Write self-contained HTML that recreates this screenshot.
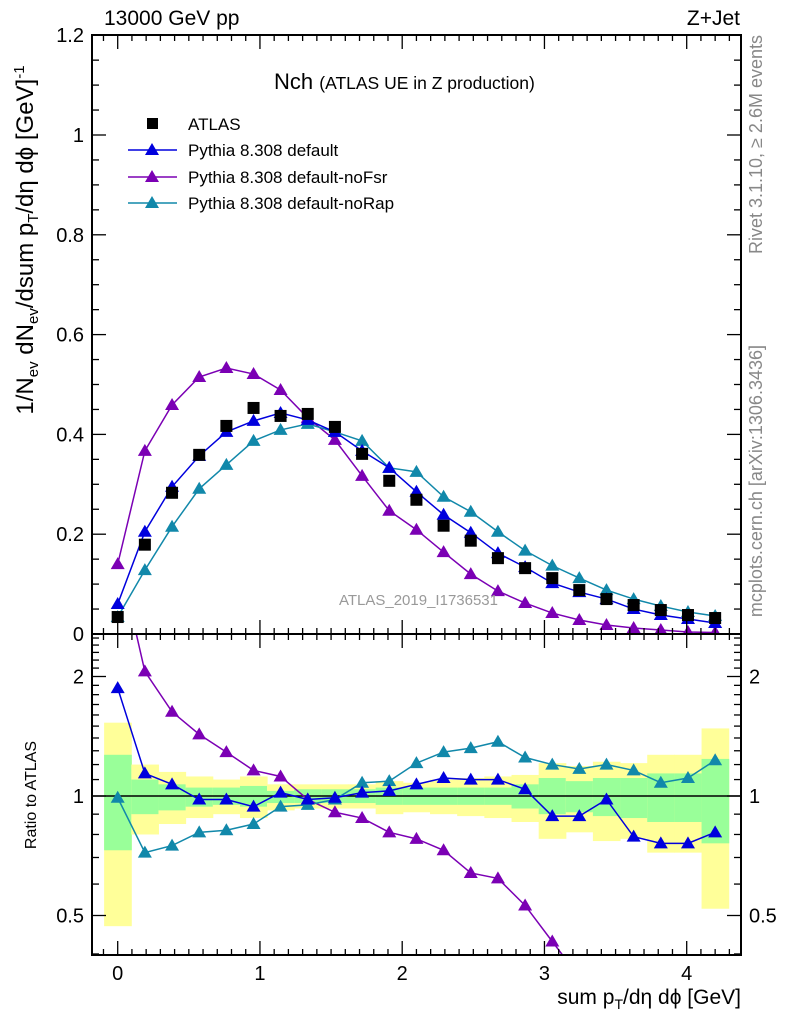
<!DOCTYPE html>
<html><head><meta charset="utf-8"><style>
html,body{margin:0;padding:0;background:#fff;overflow:hidden;width:786px;height:1024px;}
svg{display:block;font-family:"Liberation Sans",sans-serif;}
</style></head><body>
<svg id="chart" width="786" height="1024" viewBox="0 0 786 1024" xmlns="http://www.w3.org/2000/svg">
<defs>
<clipPath id="cm"><rect x="92" y="35" width="649" height="599"/></clipPath>
<clipPath id="cr"><rect x="92" y="634" width="649" height="321"/></clipPath>
</defs>
<g id="bands" clip-path="url(#cr)"></g>
<g id="main" clip-path="url(#cm)"></g>
<g id="ratio" clip-path="url(#cr)"></g>
<g id="axes"></g>
<text x="104" y="25" font-size="21">13000 GeV pp</text>
<text x="740" y="25" font-size="21" text-anchor="end">Z+Jet</text>
<text x="274" y="89" font-size="22">Nch <tspan font-size="17.5">(ATLAS UE in Z production)</tspan></text>
<g font-size="17">
<rect x="147" y="118" width="11" height="11" fill="#000"/>
<text x="188" y="130">ATLAS</text>
<line x1="128" y1="150" x2="177" y2="150" stroke="#0000dd" stroke-width="1.5"/>
<polygon points="152,143 159,155 145,155" fill="#0000dd"/>
<text x="188" y="156">Pythia 8.308 default</text>
<line x1="128" y1="177" x2="177" y2="177" stroke="#7b00b4" stroke-width="1.5"/>
<polygon points="152,170 159,182 145,182" fill="#7b00b4"/>
<text x="188" y="183">Pythia 8.308 default-noFsr</text>
<line x1="128" y1="203" x2="177" y2="203" stroke="#1188aa" stroke-width="1.5"/>
<polygon points="152,196 159,208 145,208" fill="#1188aa"/>
<text x="188" y="209">Pythia 8.308 default-noRap</text>
</g>
<text x="498" y="605" font-size="15" fill="#999" text-anchor="end">ATLAS_2019_I1736531</text>
<text transform="translate(762,35) rotate(-90)" font-size="18" fill="#888" text-anchor="end">Rivet 3.1.10, ≥ 2.6M events</text>
<text transform="translate(762,345) rotate(-90)" font-size="18" fill="#888" text-anchor="end">mcplots.cern.ch [arXiv:1306.3436]</text>
<text transform="translate(33,240) rotate(-90)" font-size="24" text-anchor="middle">1/N<tspan font-size="15" dy="5">ev</tspan><tspan dy="-5"> dN</tspan><tspan font-size="15" dy="5">ev</tspan><tspan dy="-5">/dsum p</tspan><tspan font-size="15" dy="5">T</tspan><tspan dy="-5">/dη dϕ  [GeV]</tspan><tspan font-size="15" dy="-9">-1</tspan></text>
<text transform="translate(36,795) rotate(-90)" font-size="16" text-anchor="middle">Ratio to ATLAS</text>
<text x="741" y="1004" font-size="21" text-anchor="end">sum p<tspan font-size="14" dy="5">T</tspan><tspan dy="-5">/dη dϕ [GeV]</tspan></text>
</svg>
<script>
const xVals = [0,0.191,0.382,0.573,0.764,0.955,1.145,1.336,1.527,1.718,1.909,2.1,2.291,2.482,2.673,2.864,3.055,3.245,3.436,3.627,3.818,4.009,4.2];
const atlas = [0.034,0.179,0.283,0.359,0.417,0.453,0.437,0.441,0.415,0.361,0.307,0.269,0.217,0.187,0.152,0.132,0.112,0.088,0.070,0.058,0.048,0.038,0.032];
const pyDefault = [0.06,0.205,0.295,0.357,0.405,0.427,0.443,0.429,0.405,0.367,0.333,0.285,0.239,0.203,0.162,0.134,0.102,0.084,0.070,0.050,0.038,0.030,0.022];
const pyNoFsr = [0.14,0.367,0.459,0.515,0.533,0.521,0.489,0.433,0.389,0.317,0.247,0.209,0.164,0.120,0.086,0.062,0.042,0.028,0.018,0.012,0.008,0.004,0.003];
const pyNoRap = [0.034,0.128,0.215,0.291,0.339,0.387,0.409,0.421,0.405,0.387,0.333,0.325,0.275,0.245,0.205,0.167,0.137,0.112,0.088,0.070,0.056,0.044,0.036];
const ratioDefault = [1.87,1.14,1.07,0.98,0.98,0.94,1.02,0.98,0.99,1.02,1.03,1.07,1.11,1.10,1.10,1.04,0.89,0.89,0.98,0.79,0.76,0.76,0.81];
const ratioNoFsr = [4.1,2.06,1.63,1.43,1.29,1.16,1.12,0.98,0.91,0.88,0.81,0.78,0.73,0.64,0.62,0.53,0.43,0.35,0.29,0.24,0.2,0.17,0.14];
const ratioNoRap = [0.99,0.72,0.75,0.81,0.82,0.85,0.94,0.95,0.98,1.08,1.09,1.21,1.29,1.32,1.37,1.25,1.20,1.17,1.20,1.16,1.08,1.11,1.23];
const yellowHi = [1.53,1.20,1.15,1.12,1.10,1.12,1.07,1.07,1.07,1.07,1.09,1.08,1.10,1.11,1.12,1.13,1.21,1.19,1.22,1.21,1.27,1.27,1.48];
const yellowLo = [0.47,0.80,0.85,0.88,0.90,0.88,0.92,0.93,0.93,0.93,0.90,0.91,0.90,0.89,0.88,0.86,0.78,0.81,0.77,0.78,0.72,0.72,0.52];
const greenHi = [1.27,1.10,1.07,1.05,1.05,1.06,1.03,1.04,1.04,1.04,1.05,1.05,1.05,1.05,1.05,1.07,1.11,1.09,1.11,1.11,1.14,1.14,1.24];
const greenLo = [0.73,0.90,0.92,0.94,0.95,0.94,0.96,0.96,0.96,0.96,0.95,0.95,0.95,0.95,0.95,0.93,0.90,0.91,0.89,0.88,0.86,0.86,0.76];
const mainTicks = [0,0.2,0.4,0.6,0.8,1,1.2];
const mainTickLabels = ["0","0.2","0.4","0.6","0.8","1","1.2"];
const xTicks = [0,1,2,3,4];
const ratioTicks = [0.5,1,2];

const NS="http://www.w3.org/2000/svg";
const X0=117.7, XS=142.25;
const sx=v=>X0+v*XS;
const sy=v=>634-v*499;
const sr=v=>796-Math.log2(v)*119.5;
function mk(tag,attrs,parent){const e=document.createElementNS(NS,tag);for(const k in attrs)e.setAttribute(k,attrs[k]);parent.appendChild(e);return e;}
const gB=document.getElementById('bands'),gM=document.getElementById('main'),gR=document.getElementById('ratio'),gA=document.getElementById('axes');
const hw=(xVals[1]-xVals[0])/2;
xVals.forEach((x,i)=>{
  const y=mk('rect',{x:sx(x-hw),y:sr(yellowHi[i]),width:sx(x+hw)-sx(x-hw)+0.5,height:sr(yellowLo[i])-sr(yellowHi[i]),fill:'#ffff99'},gB);
  
  
  const g=mk('rect',{x:sx(x-hw),y:sr(greenHi[i]),width:sx(x+hw)-sx(x-hw)+0.5,height:sr(greenLo[i])-sr(greenHi[i]),fill:'#99ff99'},gB);
  
  
});
const one=mk('line',{x1:92,x2:741,y1:sr(1),y2:sr(1),stroke:'#000','stroke-width':1.5},gB);


function tri(g,cx,cy,col){const p=mk('polygon',{points:`${cx},${cy-7} ${cx+7},${cy+5} ${cx-7},${cy+5}`,fill:col},g);return p;}
function series(g,vals,col,fy,name){
  const pl=mk('polyline',{points:xVals.map((x,i)=>sx(x)+','+fy(vals[i])).join(' '),fill:'none',stroke:col,'stroke-width':1.5},g);
  
  
  xVals.forEach((x,i)=>{const t=tri(g,sx(x),fy(vals[i]),col);
    
    });
}
series(gM,pyNoFsr,'#7b00b4',sy,'nofsr');
series(gM,pyNoRap,'#1188aa',sy,'norap');
series(gM,pyDefault,'#0000dd',sy,'default');
xVals.forEach((x,i)=>{const r=mk('rect',{x:sx(x)-6,y:sy(atlas[i])-6,width:12,height:12,fill:'#000'},gM);
  
  });
series(gR,ratioNoFsr,'#7b00b4',sr,'ratio-nofsr');
series(gR,ratioNoRap,'#1188aa',sr,'ratio-norap');
series(gR,ratioDefault,'#0000dd',sr,'ratio-default');
[[35,634],[634,955]].forEach(([t,b])=>{const f=mk('rect',{x:92,y:t,width:649,height:b-t,fill:'none',stroke:'#000','stroke-width':2},gA);
  
  });
function ln(x1,y1,x2,y2){mk('line',{x1,y1,x2,y2,stroke:'#000','stroke-width':1.3},gA);}
function txt(s,x,y,anchor,size){const t=mk('text',{x,y,'text-anchor':anchor,'font-size':size},gA);t.textContent=s;return t;}
for(let v=0;v<=1.2001;v+=0.05){const y=sy(v);const major=Math.abs(v/0.2-Math.round(v/0.2))<0.01;const L=major?14:7;ln(92,y,92+L,y);ln(741,y,741-L,y);}
mainTicks.forEach((v,i)=>{const t=txt(mainTickLabels[i],84,sy(v)+7,'end',20);
  
  });
for(let v=-0.1;v<=4.35;v+=0.1){const x=sx(v);if(x<93||x>740)continue;const major=Math.abs(v-Math.round(v))<0.01;const L=major?14:6;
  ln(x,35,x,35+L);ln(x,634,x,634-L);ln(x,634,x,634+L);ln(x,955,x,955-L);}
xTicks.forEach(v=>{const t=txt(String(v),sx(v),980,'middle',20);
  
  });
[0.4,0.5,0.6,0.7,0.8,0.9,1,1.1,1.2,1.3,1.4,1.5,1.6,1.7,1.8,1.9,2,2.1,2.2,2.3,2.4,2.5].forEach(v=>{const y=sr(v);if(y<635||y>954)return;
  const major=ratioTicks.includes(v);const L=major?14:7;ln(92,y,92+L,y);ln(741,y,741-L,y);});
ratioTicks.forEach(v=>{
  const a=txt(String(v),84,sr(v)+7,'end',20);
  
  
  const b=txt(String(v),749,sr(v)+7,'start',20);
  
  });
</script>
</body></html>
